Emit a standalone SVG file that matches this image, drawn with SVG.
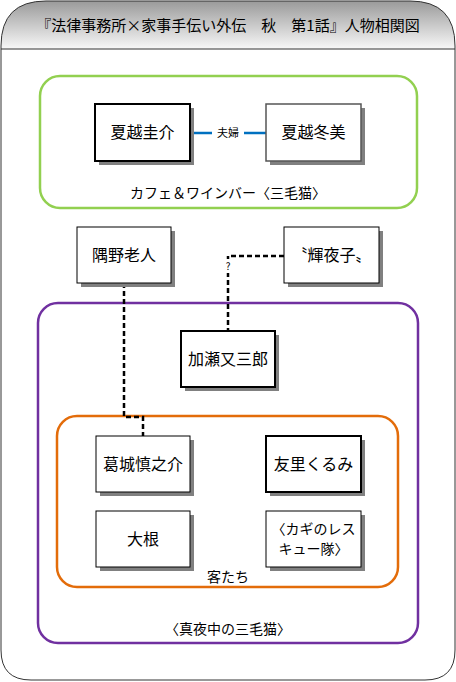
<svg xmlns="http://www.w3.org/2000/svg" width="456" height="682" viewBox="0 0 456 682">
<defs>
<linearGradient id="hdr" x1="0" y1="0" x2="0" y2="1">
<stop offset="0" stop-color="#9a9a9a"/>
<stop offset="1" stop-color="#f8f8f8"/>
</linearGradient>
<style>
text{font-family:"Noto Sans CJK JP","Noto Sans CJK SC",sans-serif;fill:#000;text-anchor:middle}
.nt{font-size:16px}
.lb{font-size:14px}
.box{fill:#fff;stroke:#000;stroke-width:1}
.thick{stroke-width:2}
.gray{stroke:#555;stroke-width:1.5}
.sh{fill:#808080}
.dash{fill:none;stroke:#000;stroke-width:2.5;stroke-dasharray:5,3}
</style>
</defs>
<g id="frame">
<path d="M1,49 L1,46 Q1,1 46,1 L410,1 Q455,1 455,46 L455,49 Z" fill="url(#hdr)"/>
<path d="M1,46 Q1,1 46,1 L410,1 Q455,1 455,46 L455,650 Q455,680 425,680 L31,680 Q1,680 1,650 Z" fill="none" stroke="#333" stroke-width="1"/>
<line x1="1" y1="49" x2="455" y2="49" stroke="#333" stroke-width="1"/>
<text x="228" y="31" style="font-size:15px">『法律事務所×家事手伝い外伝　秋　第1話』人物相関図</text>
</g>
<g id="group-cafe">
<rect x="40" y="76" width="377" height="132" rx="20" fill="none" stroke="#92d050" stroke-width="2.5"/>
<text class="lb" x="228" y="198">カフェ＆ワインバー〈三毛猫〉</text>
</g>
<g id="group-midnight">
<rect x="38" y="303" width="380" height="340" rx="20" fill="none" stroke="#7030a0" stroke-width="2.5"/>
<text class="lb" x="228" y="634">〈真夜中の三毛猫〉</text>
</g>
<g id="group-guests">
<rect x="57" y="416" width="341" height="171" rx="20" fill="none" stroke="#e36c0a" stroke-width="2.5"/>
<text class="lb" x="228" y="582">客たち</text>
</g>
<g id="connectors">
<line x1="190" y1="133" x2="212" y2="133" stroke="#0070c0" stroke-width="2.5"/>
<line x1="244" y1="133" x2="266" y2="133" stroke="#0070c0" stroke-width="2.5"/>
<text x="228" y="137" style="font-size:11px">夫婦</text>
<polyline class="dash" points="284,256 228,256 228,331"/>
<rect x="222" y="259" width="12" height="14" fill="#fff"/>
<text x="228" y="270" style="font-size:10px">?</text>
<polyline class="dash" points="124,283 124,417 143,417 143,436"/>
</g>
<g id="n-keisuke">
<rect class="sh" x="99" y="108" width="95" height="57"/>
<rect class="box thick" x="95" y="104" width="95" height="57"/>
<text class="nt" x="142.5" y="138">夏越圭介</text>
</g>
<g id="n-fuyumi">
<rect class="sh" x="270" y="108" width="95" height="57"/>
<rect class="box gray" x="266" y="104" width="95" height="57"/>
<text class="nt" x="313.5" y="138">夏越冬美</text>
</g>
<g id="n-sumino">
<rect class="sh" x="81" y="231" width="94" height="56"/>
<rect class="box" x="77" y="227" width="94" height="56"/>
<text class="nt" x="124" y="261">隅野老人</text>
</g>
<g id="n-kaguyako">
<rect class="sh" x="288" y="231" width="95" height="56"/>
<rect class="box" x="284" y="227" width="95" height="56"/>
<text class="nt" x="331.5" y="261">〝輝夜子〟</text>
</g>
<g id="n-kase">
<rect class="sh" x="185" y="335" width="94" height="56"/>
<rect class="box thick" x="181" y="331" width="94" height="56"/>
<text class="nt" x="228" y="365">加瀬又三郎</text>
</g>
<g id="n-katsuragi">
<rect class="sh" x="100" y="440" width="94" height="56"/>
<rect class="box" x="96" y="436" width="94" height="56"/>
<text class="nt" x="143" y="470">葛城慎之介</text>
</g>
<g id="n-kurumi">
<rect class="sh" x="270" y="440" width="95" height="56"/>
<rect class="box thick" x="266" y="436" width="95" height="56"/>
<text class="nt" x="313.5" y="470">友里くるみ</text>
</g>
<g id="n-daikon">
<rect class="sh" x="100" y="515" width="94" height="56"/>
<rect class="box" x="96" y="511" width="94" height="56"/>
<text class="nt" x="143" y="545">大根</text>
</g>
<g id="n-rescue">
<rect class="sh" x="270" y="515" width="95" height="56"/>
<rect class="box" x="266" y="511" width="95" height="56"/>
<text x="313.5" y="534" style="font-size:14px">〈カギのレス</text>
<text x="313.5" y="554" style="font-size:14px">キュー隊〉</text>
</g>
</svg>
